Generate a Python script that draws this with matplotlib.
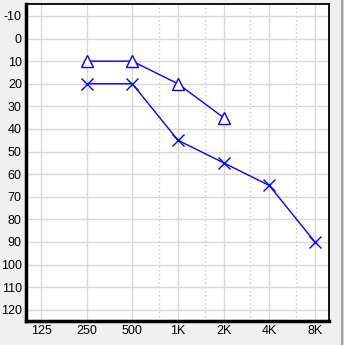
import numpy as np
import matplotlib
matplotlib.use("Agg")
import matplotlib.pyplot as plt
from matplotlib.lines import Line2D

freq_labels = ["125", "250", "500", "1K", "2K", "4K", "8K"]
freqs = [125, 250, 500, 1000, 2000, 4000, 8000]
mid_freqs = [750, 1500, 3000, 6000]
db_ticks = list(range(-10, 130, 10))

tri_freqs = [250, 500, 1000, 2000]
tri_db = [10, 10, 20, 35]
x_freqs = [250, 500, 1000, 2000, 4000, 8000]
x_db = [20, 20, 45, 55, 65, 90]

plt.rcParams["font.family"] = ["Liberation Sans", "DejaVu Sans"]

W, H = 344, 345
fig = plt.figure(figsize=(W / 100, H / 100), dpi=100, facecolor="#f0f0f0")
ax = fig.add_axes([26 / W, 1 - 321 / H, (329 - 26) / W, (321 - 4) / H])
ax.set_facecolor("white")
ax.set_xscale("log", base=2)
ax.set_xlim(125 / 2 ** 0.33, 8000 * 2 ** 0.31)
ax.set_ylim(125, -15.3)

ax.set_xticks(freqs)
ax.set_xticklabels(freq_labels)
ax.xaxis.set_minor_locator(matplotlib.ticker.NullLocator())
ax.set_yticks(db_ticks)
ax.set_yticklabels([str(v) for v in db_ticks])
ax.tick_params(length=0, labelsize=9, pad=3, colors="black")

for f in freqs:
    ax.axvline(f, color="#d8d8d8", lw=1, zorder=0)
for f in mid_freqs:
    ax.axvline(f, color="#c8c8c8", lw=1, ls=(0, (1, 2)), zorder=0)
for d in db_ticks:
    ax.axhline(d, color="#d8d8d8", lw=1, zorder=0)

ax.plot(x_freqs, x_db, color="#0000ff", lw=1, marker="x", ms=8, mew=1,
        zorder=3)
ax.plot(tri_freqs, tri_db, color="#0000ff", lw=1, marker="^", ms=8.5,
        mfc="white", mec="#0000ff", mew=1, zorder=4)

for side in ["left", "bottom"]:
    ax.spines[side].set_linewidth(2.5)
for side in ["top", "right"]:
    ax.spines[side].set_linewidth(1.3)
for s in ax.spines.values():
    s.set_color("black")

fig.add_artist(Line2D([341.5 / W, 341.5 / W], [0, 1], color="#a0a0a0", lw=1.5,
                      transform=fig.transFigure))
fig.add_artist(Line2D([343.5 / W, 343.5 / W], [0, 1], color="#696969", lw=1,
                      transform=fig.transFigure))

fig.savefig("out.png", dpi=100, facecolor=fig.get_facecolor())
